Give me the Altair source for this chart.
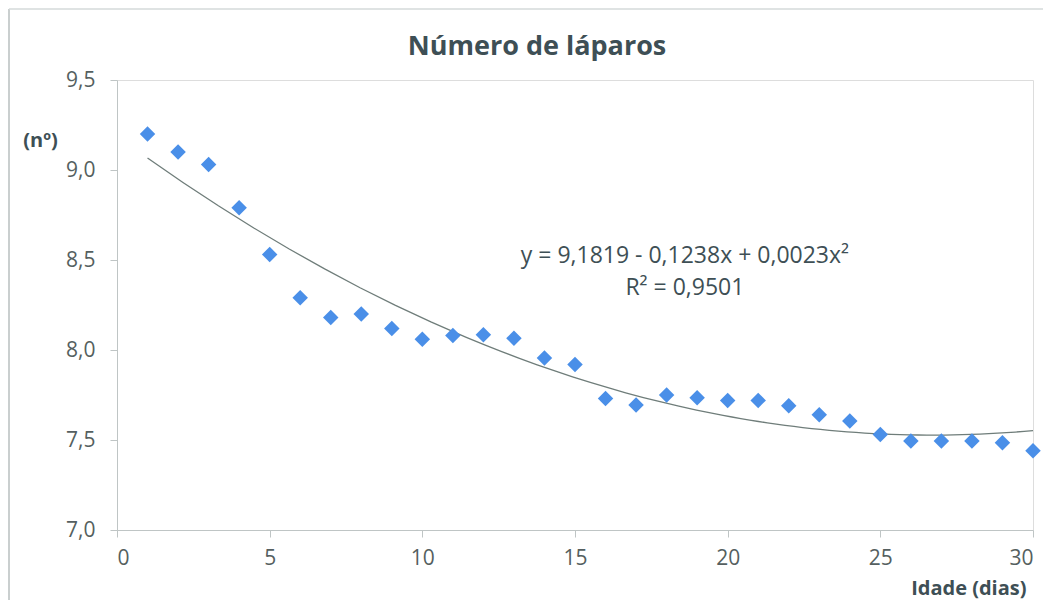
import altair as alt
import pandas as pd

days = list(range(1, 31))
laparos = [9.20, 9.10, 9.03, 8.79, 8.53, 8.29, 8.18, 8.20, 8.12, 8.06,
           8.08, 8.085, 8.065, 7.955, 7.92, 7.73, 7.695, 7.75, 7.735, 7.72,
           7.72, 7.69, 7.64, 7.605, 7.53, 7.495, 7.495, 7.495, 7.485, 7.44]

x_ticks = [0, 5, 10, 15, 20, 25, 30]
y_ticks = [7.0, 7.5, 8.0, 8.5, 9.0, 9.5]

title_text = "Número de láparos"
eq_text = "y = 9,1819 - 0,1238x + 0,0023x²"
r2_text = "R² = 0,9501"

df = pd.DataFrame({"dia": days, "n": laparos})

FONT = "Open Sans"
TXT = "#3e4f55"
AX = "#bfc5c5"

W, H = 916, 450

xs = alt.Scale(domain=[0, 30], nice=False)
ys = alt.Scale(domain=[7.0, 9.5], nice=False, zero=False)

base = alt.Chart(df)

points = base.mark_point(shape="diamond", filled=True, size=240, color="#4a8fe8", opacity=1).encode(
    x=alt.X("dia:Q", scale=xs,
            axis=alt.Axis(values=x_ticks, title="Idade (dias)", grid=False,
                          domainColor=AX, tickColor=AX, tickSize=7, labelPadding=10,
                          labelFont=FONT, labelFontSize=21, labelColor="#555f60",
                          titleFont=FONT, titleFontSize=20, titleFontWeight="bold", titleColor=TXT,
                          titleX=W - 7, titleY=58, titleAlign="right", titleBaseline="middle")),
    y=alt.Y("n:Q", scale=ys,
            axis=alt.Axis(values=y_ticks, title="(nº)", grid=False,
                          labelExpr="replace(format(datum.value, '.1f'), '.', ',')",
                          domainColor=AX, tickColor=AX, tickSize=7, labelPadding=15,
                          labelFont=FONT, labelFontSize=21, labelColor="#555f60",
                          titleFont=FONT, titleFontSize=20, titleFontWeight="bold", titleColor=TXT,
                          titleAngle=0, titleX=-77, titleY=60, titleAlign="center",
                          titleBaseline="middle")),
)

trend = base.transform_regression("dia", "n", method="poly", order=2, extent=[1, 30]).mark_line(
    color="#6f7d7a", strokeWidth=1.3).encode(x=alt.X("dia:Q", scale=xs), y=alt.Y("n:Q", scale=ys))

ann = pd.DataFrame({"t": [eq_text, r2_text], "x": [18.6, 18.6], "y": [8.52, 8.345]})
labels = alt.Chart(ann).mark_text(font=FONT, fontSize=23, color=TXT, align="center", baseline="middle").encode(
    x=alt.X("x:Q", scale=xs), y=alt.Y("y:Q", scale=ys), text="t:N")

one = pd.DataFrame({"a": [0]})
title = alt.Chart(one).mark_text(font=FONT, fontSize=27, fontWeight="bold", color=TXT,
                                 align="center", baseline="middle").encode(
    x=alt.value(420), y=alt.value(-33), text=alt.value(title_text))

frame = alt.Chart(one).mark_rule(color="#b9bfbf", strokeWidth=1.5).encode(
    x=alt.value(-108), x2=alt.value(-108), y=alt.value(-71), y2=alt.value(H + 80))
frame_top = alt.Chart(one).mark_rule(color="#d5dada", strokeWidth=1.5).encode(
    x=alt.value(-108), x2=alt.value(W + 30), y=alt.value(-71), y2=alt.value(-71))

chart = alt.layer(frame, frame_top, trend, points, labels, title).properties(
    width=W, height=H,
    autosize=alt.AutoSizeParams(type="none"),
    padding={"left": 109, "top": 72, "right": 10, "bottom": 70},
).configure_view(stroke=None).configure(background="white")

chart.save("out.html", embed_options={"renderer": "svg", "actions": False})
